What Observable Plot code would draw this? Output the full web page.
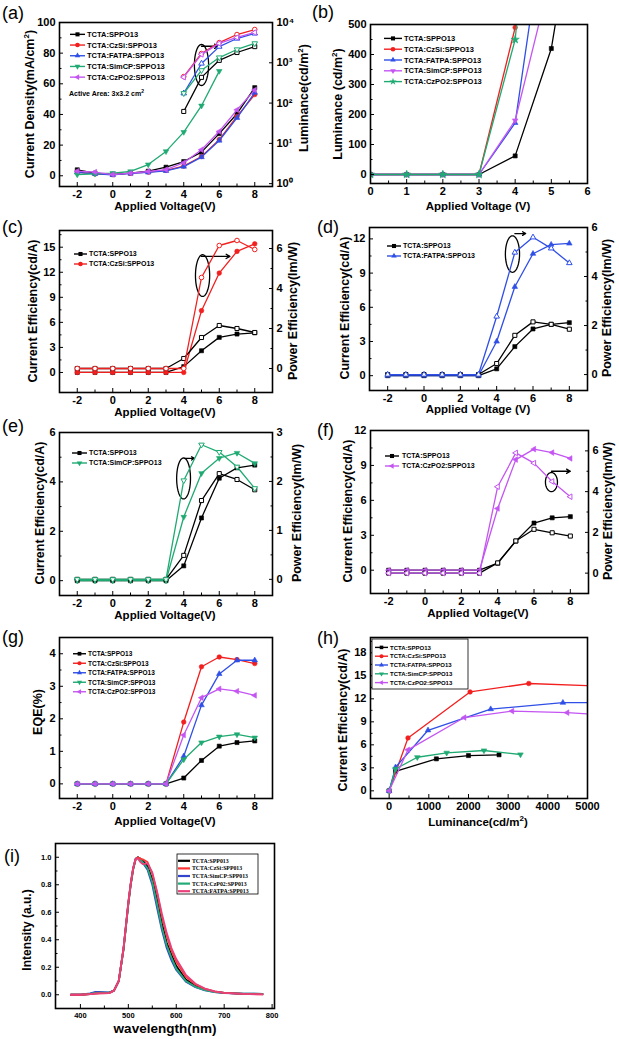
<!DOCTYPE html>
<html><head><meta charset="utf-8">
<script src="https://cdn.jsdelivr.net/npm/d3@7"></script>
<script src="https://cdn.jsdelivr.net/npm/@observablehq/plot@0.6"></script>
<style>
body{margin:0;background:#fff;}
#fig{position:relative;width:619px;height:1039px;background:#fff;overflow:hidden;font-family:"Liberation Sans",Arial,sans-serif;}
.t{position:absolute;white-space:nowrap;color:#000;line-height:1;}
</style></head><body><div id="fig"></div><script>
// ---------- data ----------
const V = [-2,-1,0,1,2,3,4,5,6,7,8];
const VL = [4,5,6,7,8];
// (a) current density (mA/cm2)
const jSPPO13 = [3.9,1.7,0.8,1.7,3.0,5.6,9.3,15.4,27.5,40.5,57.5];
const jCzSi   = [2.4,1.2,0.8,1.7,2.4,3.5,6.3,12.6,23.6,38.7,53];
const jFATPA  = [2.2,1.2,0.6,1.5,2.2,3.2,6.0,12.2,23,37.8,54.3];
const jSimCP  = [0.8,1.3,1.7,2.8,7.3,15.9,28.5,45.7,68.3];
const jCzPO2  = [3.0,2.4,0.8,1.7,2.8,4.0,8.5,17,28.9,43,56];
// (a) luminance (cd/m2), V = 4..8
const lSPPO13 = [62,435,1150,1800,2520];
const lCzSi   = [455,1700,3170,5030,6700];
const lFATPA  = [175,960,2520,4000,5350];
const lSimCP  = [175,650,1350,2140,3030];
const lCzPO2  = [440,1620,3030,4250,5650];
// (b) luminance 0..6 V
const Vb = [0,1,2,3,4,5,6];
const bSPPO13 = [0,0,0,0,62,420,1150];
const bCzSi   = [0,0,0,0,490,1780,3170];
const bFATPA  = [0,0,0,0,172,1000,2520];
const bSimCP  = [0,0,0,0,180,670,1350];
const bCzPO2  = [0,0,0,0,450,1700,3030];
// (c)
const ceSP_c = [0,0,0,0,0,0,0.7,2.6,4.2,4.6,4.75];
const peSP_c = [0,0,0,0,0,0,0.5,1.55,2.15,2.0,1.8];
const ceCz_c = [0,0,0,0,0,0,0,7.4,11.9,14.5,15.4];
const peCz_c = [0,0,0,0,0,0,0,4.55,6.15,6.4,5.95];
// (d)
const ceSP_d = [0,0,0,0,0,0,0.6,2.55,4.1,4.5,4.65];
const peSP_d = [0,0,0,0,0,0,0.45,1.6,2.15,2.05,1.85];
const ceFA_d = [0,0,0,0,0,0,3.0,7.8,10.7,11.5,11.6];
const peFA_d = [0,0,0,0,0,0,2.37,4.98,5.6,5.15,4.55];
// (e)
const ceSP_e = [0,0,0,0,0,0,0.6,2.54,4.15,4.57,4.68];
const peSP_e = [0,0,0,0,0,0,0.49,1.61,2.16,2.04,1.83];
const ceSi_e = [0,0,0,0,0,0,2.58,4.35,4.96,5.17,4.75];
const peSi_e = [0,0,0,0,0,0,2.02,2.75,2.6,2.3,1.86];
// (f)
const ceSP_f = [0,0,0,0,0,0,0.6,2.5,4.05,4.5,4.6];
const peSP_f = [0,0,0,0,0,0,0.5,1.58,2.15,1.98,1.82];
const cePO_f = [0,0,0,0,0,0,5.3,9.5,10.4,10.1,9.6];
const pePO_f = [0,0,0,0,0,0,4.24,5.9,5.4,4.5,3.75];
// (g) EQE %
const eSPPO13 = [0,0,0,0,0,0,0.18,0.72,1.16,1.27,1.32];
const eCzSi   = [0,0,0,0,0,0,1.9,3.6,3.9,3.82,3.7];
const eFATPA  = [0,0,0,0,0,0,0.85,2.42,3.38,3.8,3.8];
const eSimCP  = [0,0,0,0,0,0,0.75,1.27,1.45,1.52,1.42];
const eCzPO2  = [0,0,0,0,0,0,1.5,2.65,2.92,2.85,2.72];
// (h) current efficiency vs luminance
const hL_SPPO13 = [0,160,1190,2000,2770];       const hC_SPPO13 = [0,2.54,4.17,4.6,4.7];
const hL_CzSi   = [0,475,2040,3520,5300];       const hC_CzSi   = [0,6.9,12.9,14.0,13.65];
const hL_FATPA  = [0,160,980,2560,4380,5600];   const hC_FATPA  = [0,3.07,7.9,10.66,11.5,11.5];
const hL_SimCP  = [0,160,710,1450,2390,3310];   const hC_SimCP  = [0,2.85,4.38,4.96,5.26,4.74];
const hL_CzPO2  = [0,475,1895,3100,4490,5600];  const hC_CzPO2  = [0,5.35,9.56,10.4,10.2,9.85];
// (i) EL spectra
const WL = [380,400,420,430,440,460,470,480,490,500,505,510,515,520,525,530,540,550,560,570,580,590,600,620,640,660,680,700,740,780];
const sSPPO13 = [0,0,0.005,0.01,0.012,0.015,0.03,0.1,0.33,0.66,0.8,0.91,0.98,1.0,0.99,0.975,0.935,0.84,0.69,0.52,0.38,0.29,0.21,0.11,0.065,0.04,0.022,0.014,0.007,0.005];
const sCzSi   = [0,0,0.004,0.008,0.01,0.012,0.03,0.1,0.34,0.67,0.81,0.92,0.985,1.0,0.99,0.985,0.965,0.88,0.74,0.57,0.43,0.32,0.24,0.13,0.075,0.042,0.024,0.014,0.006,0.003];
const sSimCP  = [0,0,0.01,0.02,0.02,0.018,0.03,0.1,0.34,0.67,0.81,0.92,0.99,1.0,0.98,0.96,0.91,0.8,0.63,0.47,0.34,0.25,0.18,0.095,0.055,0.032,0.019,0.012,0.008,0.007];
const sCzPO2  = [0,0,0.007,0.014,0.016,0.016,0.03,0.1,0.33,0.66,0.8,0.91,0.985,1.0,0.985,0.965,0.92,0.82,0.66,0.49,0.36,0.27,0.19,0.1,0.058,0.034,0.02,0.013,0.008,0.007];
const sFATPA  = [0,0,0.004,0.008,0.01,0.012,0.03,0.1,0.34,0.67,0.81,0.92,0.985,0.99,0.965,0.95,0.955,0.89,0.75,0.59,0.45,0.34,0.26,0.145,0.08,0.045,0.025,0.014,0.006,0.002];
// tick labels
const logTicks = [1,10,100,1000,10000];
const logLabels = ["10⁰","10¹","10²","10³","10⁴"];

// ---------- style ----------
const fig = document.getElementById("fig");
const FONT = "Liberation Sans, Arial, sans-serif";
const COL = {SPPO13:"#000000", CzSi:"#f21f1f", FATPA:"#2f4fe6", SimCP:"#1faa72", CzPO2:"#c455f2"};
const triUp   = {draw(c,s){const r=Math.sqrt(s/Math.PI)*1.4; c.moveTo(0,-r); c.lineTo(r*0.866,r*0.5); c.lineTo(-r*0.866,r*0.5); c.closePath();}};
const triDown = {draw(c,s){const r=Math.sqrt(s/Math.PI)*1.4; c.moveTo(0,r); c.lineTo(-r*0.866,-r*0.5); c.lineTo(r*0.866,-r*0.5); c.closePath();}};
const triLeft = {draw(c,s){const r=Math.sqrt(s/Math.PI)*1.4; c.moveTo(-r,0); c.lineTo(r*0.5,-r*0.866); c.lineTo(r*0.5,r*0.866); c.closePath();}};
const SYM = {SPPO13:"square", CzSi:"circle", FATPA:triUp, SimCP:triDown, CzPO2:triLeft};
const D3SYM = {square:d3.symbolSquare, circle:d3.symbolCircle, star:d3.symbolStar};

function series(xs, ys, key, o = {}) {
  const data = ys.map((y,i)=>({x: xs[i], y}));
  const c = o.color || COL[key];
  const open = !!o.open, clip = !!o.clip;
  return [
    Plot.line(data, {x:"x", y:"y", stroke:c, strokeWidth:o.sw || 1.3, clip}),
    Plot.dot(data, {x:"x", y:"y", symbol:o.sym || SYM[key], r:o.r || 2.3, fill: open ? "white" : c, stroke:c, strokeWidth: open ? 1 : 0.6, clip})
  ];
}
const fmt0 = d => String(d);
function axX(major, minor, fmt = fmt0, fs = 11) {
  return [
    Plot.axisX(major, {tickSize:0, tickPadding:4, tickFormat:fmt, label:null, fontSize:fs, fontWeight:"bold"}),
    Plot.axisX(major, {tickSize:-4, tickFormat:()=>"", label:null}),
    Plot.axisX(minor, {tickSize:-2.5, tickFormat:()=>"", label:null})
  ];
}
function axY(major, minor, anchor = "left", fmt = fmt0, fs = 11) {
  return [
    Plot.axisY(major, {anchor, tickSize:0, tickPadding:4, tickFormat:fmt, label:null, fontSize:fs, fontWeight:"bold"}),
    Plot.axisY(major, {anchor, tickSize:-4, tickFormat:()=>"", label:null}),
    Plot.axisY(minor, {anchor, tickSize:-2.5, tickFormat:()=>"", label:null})
  ];
}
function ellipse(a) {
  const pts = d3.range(0, 361, 6).map(t => ({x: a.cx + a.rx*Math.cos(t*Math.PI/180), y: a.cy + a.ry*Math.sin(t*Math.PI/180)}));
  return Plot.line(pts, {x:"x", y:"y", stroke:"#000", strokeWidth:1.3});
}
function arrow(a) {
  return Plot.arrow([a], {x1:"x1", y1:"y1", x2:"x2", y2:"y2", stroke:"#000", strokeWidth:1.3, headLength:5});
}
function mk(cell, frame, x, y, marks) {
  const svg = Plot.plot({
    width: cell[2], height: cell[3],
    marginLeft: frame[0]-cell[0], marginTop: frame[1]-cell[1],
    marginRight: cell[0]+cell[2]-frame[2], marginBottom: cell[1]+cell[3]-frame[3],
    x: {...x, axis: null}, y: {...y, axis: null}, marks,
    style: {background:"transparent", overflow:"visible", fontFamily:FONT, fontSize:"11px", color:"#000"}
  });
  svg.style.position = "absolute"; svg.style.left = cell[0]+"px"; svg.style.top = cell[1]+"px";
  fig.appendChild(svg);
}
function txt(html, x, y, o = {}) {
  const d = document.createElement("div"); d.className = "t"; d.innerHTML = html;
  d.style.left = x+"px"; d.style.top = y+"px"; d.style.fontSize = (o.size || 12)+"px";
  d.style.fontWeight = o.weight || "bold"; d.style.fontFamily = o.family || FONT;
  const tx = (o.anchor || "middle") === "middle" ? "-50%" : o.anchor === "start" ? "0" : "-100%";
  d.style.transform = `translate(${tx},-50%) rotate(${o.rot || 0}deg)`;
  fig.appendChild(d);
}
function legend(x, y0, items, o = {}) {
  const fs = o.fs || 7.5, rowH = o.rowH || 10.5, lw = o.lineW || 15, gap = o.gap || 3, r = o.r || 2.3;
  const W = o.w || 150, H = items.length*rowH;
  const pad = o.box ? o.box : null;
  const svg = d3.create("svg").attr("width", W+10).attr("height", H+10)
    .style("position","absolute").style("left",(x-5)+"px").style("top",(y0-rowH/2-5)+"px").style("overflow","visible");
  const g = svg.append("g").attr("transform","translate(5,5)");
  if (pad) g.append("rect").attr("x",-pad[0]).attr("y",-pad[1]).attr("width",pad[2]).attr("height",pad[3]).attr("fill","white").attr("stroke","#000").attr("stroke-width",0.8);
  items.forEach((it,i) => {
    const yy = i*rowH + rowH/2;
    g.append("line").attr("x1",0).attr("x2",lw).attr("y1",yy).attr("y2",yy).attr("stroke",it.color).attr("stroke-width",it.sw || 1.4);
    if (it.sym) {
      const t = typeof it.sym === "string" ? D3SYM[it.sym] : it.sym;
      g.append("path").attr("d", d3.symbol().type(t).size(r*r*Math.PI)()).attr("transform",`translate(${lw/2},${yy})`).attr("fill",it.color);
    }
    g.append("text").attr("x",lw+gap).attr("y",yy).attr("dy","0.35em").attr("font-size",fs).attr("font-weight","bold")
      .attr("font-family", o.family || FONT).text(it.label);
  });
  fig.appendChild(svg.node());
}
const LEG5 = [
  {label:"TCTA:SPPO13", color:COL.SPPO13, sym:"square"},
  {label:"TCTA:CzSi:SPPO13", color:COL.CzSi, sym:"circle"},
  {label:"TCTA:FATPA:SPPO13", color:COL.FATPA, sym:triUp},
  {label:"TCTA:SimCP:SPPO13", color:COL.SimCP, sym:triDown},
  {label:"TCTA:CzPO2:SPPO13", color:COL.CzPO2, sym:triLeft}
];
const xV = {domain:[-3,9]};
const xMaj = [-2,0,2,4,6,8], xMin = [-1,1,3,5,7];
const FR = () => Plot.frame({stroke:"#000", strokeWidth:1.6});

// ---------- (a) ----------
{
  const cell = [0,0,310,215], fr = [59,22,272,186];
  mk(cell, fr, xV, {domain:[-7,100]}, [
    ...series(V,jSPPO13,"SPPO13"), ...series(V,jCzSi,"CzSi"), ...series(V,jFATPA,"FATPA"),
    ...series(V,jSimCP,"SimCP"), ...series(V,jCzPO2,"CzPO2"),
    ellipse({cx:5.0, cy:72.3, rx:0.4, ry:13.4}), arrow({x1:5.0, y1:84.5, x2:5.95, y2:84.5}),
    ...axX(xMaj, xMin), ...axY([0,20,40,60,80,100],[10,30,50,70,90]), FR()
  ]);
  mk(cell, fr, xV, {type:"log", domain:[0.85,1e4]}, [
    ...series(VL,lSPPO13,"SPPO13",{open:true}), ...series(VL,lCzSi,"CzSi",{open:true}),
    ...series(VL,lFATPA,"FATPA",{open:true}), ...series(VL,lSimCP,"SimCP",{open:true}),
    ...series(VL,lCzPO2,"CzPO2",{open:true}),
    ...axY(logTicks, [], "right", d => logLabels[logTicks.indexOf(d)])
  ]);
  legend(70, 34, LEG5, {fs:7.5, rowH:10.7, lineW:15, gap:2});
  txt("Active Area: 3x3.2 cm<sup style='font-size:5px'>2</sup>", 69, 93, {size:7, anchor:"start"});
  txt("(a)", 2, 13, {size:18, weight:"normal", anchor:"start"});
  txt("Applied Voltage(V)", 165, 207, {size:11.5});
  txt("Current Density(mA/cm<sup style='font-size:8px'>2</sup>)", 30, 104, {size:12.5, rot:-90});
  txt("Luminance(cd/m<sup style='font-size:8px'>2</sup>)", 304, 98, {size:12.5, rot:-90});
}
// ---------- (b) ----------
{
  const cell = [310,0,309,215], fr = [370,24,587,183];
  const cSim = COL.CzPO2, cPO = COL.SimCP;
  mk(cell, fr, {domain:[0,6]}, {domain:[-30,500]}, [
    ...series(Vb,bSPPO13,"SPPO13",{clip:true}), ...series(Vb,bCzSi,"CzSi",{clip:true}),
    ...series(Vb,bFATPA,"FATPA",{clip:true}), ...series(Vb,bSimCP,"SimCP",{clip:true, color:cSim}),
    ...series(Vb,bCzPO2,"CzPO2",{clip:true, color:cPO, sym:"star", r:2.6}),
    ...axX([0,1,2,3,4,5,6],[0.5,1.5,2.5,3.5,4.5,5.5]), ...axY([0,100,200,300,400,500],[50,150,250,350,450]), FR()
  ]);
  legend(384, 38, [
    {label:"TCTA:SPPO13", color:COL.SPPO13, sym:"square"},
    {label:"TCTA:CzSi:SPPO13", color:COL.CzSi, sym:"circle"},
    {label:"TCTA:FATPA:SPPO13", color:COL.FATPA, sym:triUp},
    {label:"TCTA:SimCP:SPPO13", color:cSim, sym:triDown},
    {label:"TCTA:CzPO2:SPPO13", color:cPO, sym:"star"}
  ], {fs:7.5, rowH:10.8, lineW:18, gap:2});
  txt("(b)", 312, 12, {size:18, weight:"normal", anchor:"start"});
  txt("Applied Voltage (V)", 478, 207, {size:11.5});
  txt("Luminance (cd/m<sup style='font-size:8px'>2</sup>)", 338, 104, {size:12.5, rot:-90});
}
// ---------- (c) ----------
{
  const cell = [0,215,310,205], fr = [59,230,272,392];
  mk(cell, fr, xV, {domain:[-2.4,17]}, [
    ...series(V,ceSP_c,"SPPO13"), ...series(V,ceCz_c,"CzSi"),
    ellipse({cx:5.06, cy:11.6, rx:0.4, ry:2.5}), arrow({x1:5.0, y1:13.9, x2:6.6, y2:13.9}),
    ...axX(xMaj, xMin), ...axY([0,3,6,9,12,15],[1.5,4.5,7.5,10.5,13.5,16.5]), FR()
  ]);
  mk(cell, fr, xV, {domain:[-1.2,6.9]}, [
    ...series(V,peSP_c,"SPPO13",{open:true}), ...series(V,peCz_c,"CzSi",{open:true}),
    ...axY([0,2,4,6],[1,3,5],"right")
  ]);
  legend(74, 254, [LEG5[0], LEG5[1]], {fs:7, rowH:10, lineW:13, gap:2});
  txt("(c)", 2, 227, {size:18, weight:"normal", anchor:"start"});
  txt("Applied Voltage(V)", 165, 413, {size:11.5});
  txt("Current Efficiency(cd/A)", 33, 311, {size:12.5, rot:-90});
  txt("Power Efficiency(lm/W)", 293, 311, {size:12.5, rot:-90});
}
// ---------- (d) ----------
{
  const cell = [310,215,309,205], fr = [369,227,587,390];
  mk(cell, fr, xV, {domain:[-1.3,13]}, [
    ...series(V,ceSP_d,"SPPO13"), ...series(V,ceFA_d,"FATPA"),
    ellipse({cx:4.87, cy:10.67, rx:0.39, ry:1.6}), arrow({x1:5.0, y1:12.47, x2:5.6, y2:12.47}),
    ...axX(xMaj, xMin), ...axY([0,3,6,9,12],[1.5,4.5,7.5,10.5]), FR()
  ]);
  mk(cell, fr, xV, {domain:[-0.65,6]}, [
    ...series(V,peSP_d,"SPPO13",{open:true}), ...series(V,peFA_d,"FATPA",{open:true}),
    ...axY([0,2,4,6],[1,3,5],"right")
  ]);
  legend(387, 246, [LEG5[0], LEG5[2]], {fs:7, rowH:10, lineW:14, gap:2});
  txt("(d)", 317, 227, {size:18, weight:"normal", anchor:"start"});
  txt("Applied Voltage (V)", 478, 410, {size:11.5});
  txt("Current Efficiency(cd/A)", 345, 308, {size:12.5, rot:-90});
  txt("Power Efficiency(lm/W)", 607, 308, {size:12.5, rot:-90});
}
// ---------- (e) ----------
{
  const cell = [0,420,310,210], fr = [59,432,272,595];
  mk(cell, fr, xV, {domain:[-0.6,6]}, [
    ...series(V,ceSP_e,"SPPO13"), ...series(V,ceSi_e,"SimCP"),
    ellipse({cx:3.99, cy:4.14, rx:0.39, ry:0.83}), arrow({x1:4.05, y1:4.95, x2:4.6, y2:4.95}),
    ...axX(xMaj, xMin), ...axY([0,2,4,6],[1,3,5]), FR()
  ]);
  mk(cell, fr, xV, {domain:[-0.33,3]}, [
    ...series(V,peSP_e,"SPPO13",{open:true}), ...series(V,peSi_e,"SimCP",{open:true}),
    ...axY([0,1,2,3],[0.5,1.5,2.5],"right")
  ]);
  legend(72, 453, [LEG5[0], LEG5[3]], {fs:7, rowH:10, lineW:15, gap:2});
  txt("(e)", 2, 426, {size:18, weight:"normal", anchor:"start"});
  txt("Applied Voltage(V)", 165, 616, {size:11.5});
  txt("Current Efficiency(cd/A)", 40, 513, {size:12.5, rot:-90});
  txt("Power Efficiency(lm/W)", 297, 513, {size:12.5, rot:-90});
}
// ---------- (f) ----------
{
  const cell = [310,420,309,210], fr = [370,430,588,593];
  mk(cell, fr, xV, {domain:[-2,12]}, [
    ...series(V,ceSP_f,"SPPO13"), ...series(V,cePO_f,"CzPO2"),
    ellipse({cx:6.96, cy:7.57, rx:0.33, ry:0.82}), arrow({x1:6.96, y1:8.5, x2:8.0, y2:8.5}),
    ...axX(xMaj, xMin), ...axY([0,3,6,9,12],[1.5,4.5,7.5,10.5]), FR()
  ]);
  mk(cell, fr, xV, {domain:[-1,7]}, [
    ...series(V,peSP_f,"SPPO13",{open:true}), ...series(V,pePO_f,"CzPO2",{open:true}),
    ...axY([0,2,4,6],[1,3,5],"right")
  ]);
  legend(385, 456, [LEG5[0], LEG5[4]], {fs:7, rowH:10, lineW:14, gap:3});
  txt("(f)", 317, 430, {size:18, weight:"normal", anchor:"start"});
  txt("Applied Voltage(V)", 478, 614, {size:11.5});
  txt("Current Efficiency(cd/A)", 348, 511, {size:12.5, rot:-90});
  txt("Power Efficiency(lm/W)", 608, 511, {size:12.5, rot:-90});
}
// ---------- (g) ----------
{
  const cell = [0,630,310,205], fr = [59,637,272,798];
  mk(cell, fr, xV, {domain:[-0.45,4.5]}, [
    ...series(V,eSPPO13,"SPPO13"), ...series(V,eCzSi,"CzSi"), ...series(V,eFATPA,"FATPA"),
    ...series(V,eSimCP,"SimCP"), ...series(V,eCzPO2,"CzPO2"),
    ...axX(xMaj, xMin), ...axY([0,1,2,3,4],[0.5,1.5,2.5,3.5]), FR()
  ]);
  legend(73, 654, LEG5, {fs:6.5, rowH:9.5, lineW:13, gap:2, r:2.1});
  txt("(g)", 2, 637, {size:18, weight:"normal", anchor:"start"});
  txt("Applied Voltage(V)", 165, 822, {size:11.5});
  txt("EQE(%)", 38, 712, {size:12.5, rot:-90});
}
// ---------- (h) ----------
{
  const cell = [310,630,309,205], fr = [370,637,587,798];
  mk(cell, fr, {domain:[-470,5000]}, {domain:[-1,20]}, [
    ...series(hL_SPPO13,hC_SPPO13,"SPPO13",{clip:true}), ...series(hL_CzSi,hC_CzSi,"CzSi",{clip:true}),
    ...series(hL_FATPA,hC_FATPA,"FATPA",{clip:true}), ...series(hL_SimCP,hC_SimCP,"SimCP",{clip:true}),
    ...series(hL_CzPO2,hC_CzPO2,"CzPO2",{clip:true}),
    ...axX([0,1000,2000,3000,4000,5000],[500,1500,2500,3500,4500]),
    ...axY([0,3,6,9,12,15,18],[1.5,4.5,7.5,10.5,13.5,16.5,19.5]), FR()
  ]);
  legend(375, 647, LEG5, {fs:6, rowH:8.8, lineW:13, gap:2, r:2, box:[3,4,96,50]});
  txt("(h)", 317, 638, {size:18, weight:"normal", anchor:"start"});
  txt("Luminance(cd/m<sup style='font-size:8px'>2</sup>)", 478, 822, {size:11.5});
  txt("Current Efficiency(cd/A)", 343, 720, {size:12.5, rot:-90});
}
// ---------- (i) ----------
{
  const cell = [0,835,310,204], fr = [55,843,274,1008];
  const IC = {SPPO13:"#000000", CzSi:"#ff3535", SimCP:"#3344cc", CzPO2:"#22aa77", FATPA:"#e8407a"};
  const ln = (ys, c) => Plot.line(WL.map((w,i)=>({x:w, y:ys[i]})), {x:"x", y:"y", stroke:c, strokeWidth:1.8});
  mk(cell, fr, {domain:[348,805]}, {domain:[-0.1,1.1]}, [
    ln(sSPPO13, IC.SPPO13), ln(sSimCP, IC.SimCP), ln(sCzPO2, IC.CzPO2), ln(sCzSi, IC.CzSi), ln(sFATPA, IC.FATPA),
    ...axX([400,500,600,700,800],[450,550,650,750], fmt0, 7.5),
    ...axY([0,0.2,0.4,0.6,0.8,1.0],[0.1,0.3,0.5,0.7,0.9], "left", d3.format(".1f"), 7.5), FR()
  ]);
  legend(178, 861, [
    {label:"TCTA:SPP013", color:IC.SPPO13, sw:2.2},
    {label:"TCTA:CzSi:SPP013", color:IC.CzSi, sw:2.2},
    {label:"TCTA:SimCP:SPP013", color:IC.SimCP, sw:2.2},
    {label:"TCTA:CzP02:SPP013", color:IC.CzPO2, sw:2.2},
    {label:"TCTA:FATPA:SPP013", color:IC.FATPA, sw:2.2}
  ], {fs:5.8, rowH:7.6, lineW:12, gap:2, family:"Liberation Serif, serif", box:[1,3,81,40]});
  txt("(i)", 4, 856, {size:18, weight:"normal", anchor:"start"});
  txt("wavelength(nm)", 165, 1029, {size:13.5});
  txt("Intensity (a.u.)", 27, 930, {size:12, rot:-90});
}
</script></body></html>
